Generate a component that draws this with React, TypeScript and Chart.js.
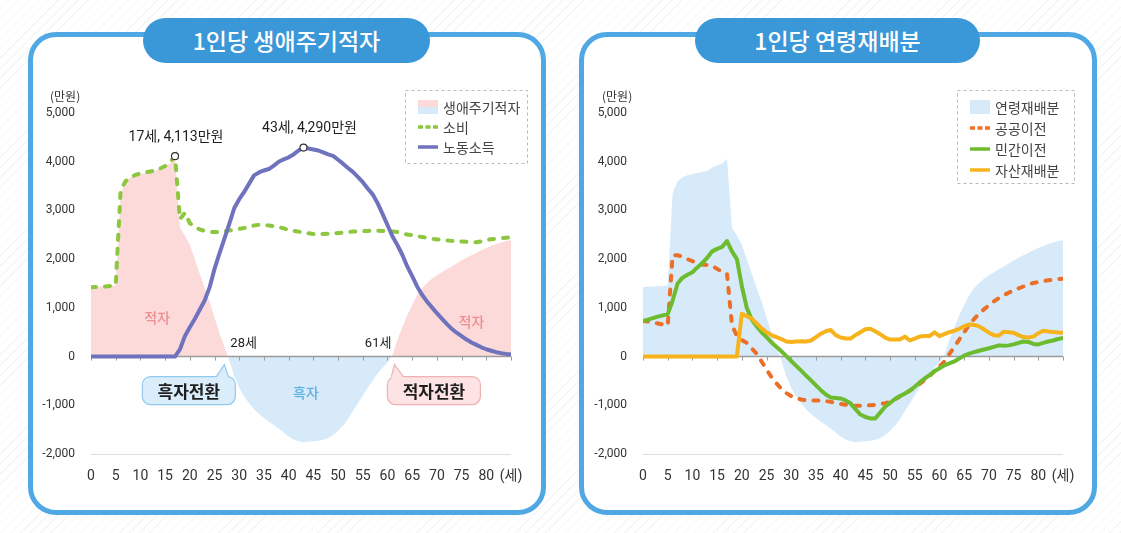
import React, { useEffect, useRef } from 'react';
import { Chart, registerables } from 'chart.js';

Chart.register(...registerables);

// ---------------- data ----------------
const ages = [
  0, 1, 2, 3, 4, 5, 6, 7, 8, 9, 10, 11, 12, 13, 14, 15, 16, 17, 18, 19,
  20, 21, 22, 23, 24, 25, 26, 27, 28, 29, 30, 31, 32, 33, 34, 35, 36, 37, 38, 39,
  40, 41, 42, 43, 44, 45, 46, 47, 48, 49, 50, 51, 52, 53, 54, 55, 56, 57, 58, 59,
  60, 61, 62, 63, 64, 65, 66, 67, 68, 69, 70, 71, 72, 73, 74, 75, 76, 77, 78, 79,
  80, 81, 82, 83, 84, 85,
];

// 생애주기적자 = 연령재배분 (만원)
const lifecycleDeficit = [
  1430, 1435, 1440, 1445, 1450, 1460,
  3350, 3600, 3680, 3720, 3750, 3770, 3790, 3810, 3880, 3920, 3960, 4060,
  2650, 2480, 2300, 2000, 1700, 1420, 1130, 800, 480, 200,
  -80, -400, -640, -820, -960, -1080, -1180, -1260, -1340, -1410,
  -1480, -1560, -1640, -1700, -1740, -1760, -1750, -1740, -1730, -1710,
  -1670, -1610, -1530, -1420, -1280, -1120, -960, -800, -640, -490,
  -350, -230, -120, 30, 340, 600, 850, 1060, 1260, 1400,
  1510, 1600, 1670, 1730, 1790, 1850, 1910, 1970, 2030, 2080,
  2130, 2180, 2230, 2270, 2310, 2340, 2370, 2390,
];

// 소비
const consumption = [
  1425, 1430, 1435, 1440, 1450, 1470,
  3420, 3600, 3680, 3730, 3760, 3780, 3800, 3820, 3860, 3910, 3990, 4113,
  2820, 2950, 2740, 2660, 2610, 2580, 2560, 2555, 2560, 2575,
  2590, 2605, 2620, 2640, 2665, 2690, 2705, 2700, 2690, 2675,
  2660, 2630, 2600, 2580, 2565, 2545, 2530, 2515, 2510, 2515,
  2520, 2525, 2535, 2545, 2555, 2565, 2570, 2575, 2580, 2585,
  2585, 2580, 2575, 2570, 2555, 2530, 2505, 2490, 2470, 2455,
  2440, 2420, 2405, 2395, 2385, 2375, 2365, 2360, 2355, 2350,
  2345, 2365, 2390, 2410, 2420, 2430, 2440, 2445,
];

// 노동소득
const laborIncome = [
  0, 0, 0, 0, 0, 0, 0, 0, 0, 0, 0, 0, 0, 0, 0, 0, 0, 0,
  150, 420, 600, 770, 960, 1150, 1420, 1800, 2120, 2420,
  2730, 3050, 3230, 3380, 3550, 3720, 3780, 3820, 3850, 3920,
  4000, 4050, 4090, 4150, 4230, 4290, 4270, 4250, 4230, 4190,
  4150, 4120, 4040, 3960, 3870, 3790, 3690, 3580, 3450, 3330,
  3150, 2930, 2700, 2470, 2290, 2090, 1850, 1650, 1440, 1270,
  1130, 1010, 890, 780, 670, 570, 490, 420, 350, 290,
  240, 190, 150, 120, 90, 70, 55, 45,
];

// 공공이전
const publicTransfer = [
  730, 720, 700, 680, 660, 640,
  2080, 2080, 2050, 2000, 1960, 1920, 1890, 1880, 1860, 1800, 1740, 1700,
  650, 420, 340, 280, 170, 60, -100, -270, -420, -550,
  -660, -750, -810, -850, -880, -895, -900, -900, -905, -915,
  -930, -950, -970, -990, -1000, -1010, -1010, -1005, -1000, -990,
  -975, -955, -930, -880, -820, -760, -700, -630, -560, -480,
  -400, -300, -200, -100, 50, 200, 350, 500, 650, 770,
  880, 970, 1050, 1130, 1200, 1260, 1310, 1360, 1400, 1440,
  1480, 1510, 1530, 1550, 1565, 1580, 1590, 1600,
];

// 민간이전
const privateTransfer = [
  730, 760, 790, 820, 845, 870,
  1150, 1500, 1620, 1680, 1730, 1830, 1920, 2030, 2160, 2210, 2250, 2370,
  2160, 2000, 1450, 1000, 760, 620, 500, 400, 290, 200,
  110, 10, -90, -190, -290, -390, -490, -590, -690, -780,
  -840, -850, -860, -900, -960, -1080, -1190, -1240, -1270, -1270,
  -1150, -1030, -950, -870, -810, -760, -700, -620, -530, -450,
  -380, -300, -240, -180, -140, -100, -40, 20, 60, 90,
  120, 145, 170, 200, 230, 220, 230, 250, 280, 310,
  300, 260, 250, 280, 310, 330, 360, 380,
];

// 자산재배분
const assetReallocation = [
  0, 0, 0, 0, 0, 0, 0, 0, 0, 0, 0, 0, 0, 0, 0, 0, 0, 0, 0, 0,
  880, 830, 780, 680, 580, 500, 440, 400, 360, 310,
  300, 310, 315, 310, 330, 400, 470, 520, 545, 440,
  390, 370, 370, 440, 500, 560, 570, 520, 460, 390,
  350, 350, 350, 410, 330, 370, 410, 420, 420, 500,
  420, 460, 500, 530, 570, 620, 660, 650, 620, 560,
  490, 440, 430, 510, 500, 490, 440, 400, 390, 410,
  480, 530, 515, 505, 495, 490,
];

const xTickValues = [0, 5, 10, 15, 20, 25, 30, 35, 40, 45, 50, 55, 60, 65, 70, 75, 80, 85];
const xTickLabels = ['0', '5', '10', '15', '20', '25', '30', '35', '40', '45', '50', '55', '60', '65', '70', '75', '80', '(세)'];
const yTickValues = [-2000, -1000, 0, 1000, 2000, 3000, 4000, 5000];
const yUnitLabel = '(만원)';

const leftTitle = '1인당 생애주기적자';
const rightTitle = '1인당 연령재배분';
const leftLegend = ['생애주기적자', '소비', '노동소득'];
const rightLegend = ['연령재배분', '공공이전', '민간이전', '자산재배분'];

const peakNotes = [
  { age: 17, value: 4113, text: '17세, 4,113만원' },
  { age: 43, value: 4290, text: '43세, 4,290만원' },
];
const crossNotes = [
  { age: 28, text: '28세', callout: '흑자전환', kind: 'surplus' },
  { age: 61, text: '61세', callout: '적자전환', kind: 'deficit' },
];
const areaNotes = [
  { age: 13.4, value: 800, text: '적자', kind: 'deficit' },
  { age: 77, value: 720, text: '적자', kind: 'deficit' },
  { age: 43.5, value: -740, text: '흑자', kind: 'surplus' },
];

// ---------------- styles ----------------
const KR = "'Noto Sans CJK KR', 'Noto Sans', sans-serif";
const NUM = "Roboto, 'Noto Sans CJK KR', sans-serif";
const C = {
  pink: '#fcdada',
  blue: '#d6eaf9',
  cons: '#8dc63f',
  labor: '#6f72bd',
  pub: '#ec6f28',
  priv: '#6dbb2e',
  asset: '#f6b31b',
  frame: '#4fa8e4',
  pill: '#3a97d8',
  axis: '#9c9c9c',
  text: '#333333',
  pinkText: '#ef8e92',
  blueText: '#60b1e4',
};
const LINE_W = 4;

Chart.defaults.font.family = NUM;

const zeroAxisPlugin = {
  id: 'zeroAxis',
  afterDatasetDraw(chart: any, args: any) {
    if (args.index !== 0) return;
    const { ctx, chartArea, scales } = chart;
    const x = scales.x;
    const y0 = scales.y.getPixelForValue(0);
    ctx.save();
    ctx.strokeStyle = C.axis;
    ctx.lineWidth = 1.5;
    ctx.beginPath();
    ctx.moveTo(chartArea.left, y0);
    ctx.lineTo(chartArea.right, y0);
    ctx.stroke();
    ctx.lineWidth = 1;
    ctx.beginPath();
    for (const v of xTickValues) {
      const px = Math.round(x.getPixelForValue(v)) + 0.5;
      ctx.moveTo(px, y0);
      ctx.lineTo(px, y0 + 4);
    }
    ctx.stroke();
    ctx.restore();
  },
};

type LegendItem = { label: string; type: string; color: string; color2?: string };

function drawLegendBox(ctx: any, bx: number, by: number, bw: number, bh: number, items: LegendItem[], gap: number) {
  ctx.save();
  ctx.setLineDash([3, 3]);
  ctx.strokeStyle = '#b8b8b8';
  ctx.lineWidth = 1;
  ctx.strokeRect(bx + 0.5, by + 0.5, bw, bh);
  ctx.setLineDash([]);
  items.forEach((it, i) => {
    const cy = by + 17 + i * gap;
    const sx = bx + 13;
    if (it.type === 'area2') {
      ctx.fillStyle = it.color;
      ctx.fillRect(sx, cy - 7, 20, 7);
      ctx.fillStyle = it.color2;
      ctx.fillRect(sx, cy, 20, 7);
    } else if (it.type === 'area') {
      ctx.fillStyle = it.color;
      ctx.fillRect(sx, cy - 7, 20, 14);
    } else {
      ctx.strokeStyle = it.color;
      ctx.lineWidth = 3.5;
      ctx.lineCap = 'butt';
      ctx.setLineDash(it.type === 'dash' ? [5, 2.5] : []);
      ctx.beginPath();
      ctx.moveTo(sx, cy);
      ctx.lineTo(sx + 20, cy);
      ctx.stroke();
      ctx.setLineDash([]);
    }
    ctx.fillStyle = '#444';
    ctx.font = `14px ${KR}`;
    ctx.textAlign = 'left';
    ctx.textBaseline = 'middle';
    ctx.fillText(it.label, sx + 25, cy + 1);
  });
  ctx.restore();
}

function drawUnit(ctx: any) {
  ctx.save();
  ctx.fillStyle = C.text;
  ctx.font = `12px ${KR}`;
  ctx.textAlign = 'left';
  ctx.textBaseline = 'middle';
  ctx.fillText(yUnitLabel, 20, 16);
  ctx.restore();
}

function drawCallout(ctx: any, ax: number, y0: number, text: string, kind: string) {
  const surplus = kind === 'surplus';
  const fill = surplus ? '#d9edfb' : '#fde3e3';
  const stroke = surplus ? '#92c9ee' : '#efb1b1';
  const w = 93;
  const h = 28;
  const left = surplus ? ax - 87 : ax - 5;
  const top = y0 + 20;
  const b1 = surplus ? ax - 13 : ax - 1;
  const b2 = surplus ? ax - 1 : ax + 11;
  const tipX = surplus ? ax - 5 : ax + 2;
  const tipY = y0 + 8;
  ctx.save();
  ctx.lineWidth = 1.2;
  ctx.fillStyle = fill;
  ctx.strokeStyle = stroke;
  ctx.beginPath();
  ctx.roundRect(left, top, w, h, 8);
  ctx.fill();
  ctx.stroke();
  ctx.beginPath();
  ctx.moveTo(b1, top + 1.5);
  ctx.lineTo(tipX, tipY);
  ctx.lineTo(b2, top + 1.5);
  ctx.closePath();
  ctx.fill();
  ctx.beginPath();
  ctx.moveTo(b1, top);
  ctx.lineTo(tipX, tipY);
  ctx.lineTo(b2, top);
  ctx.stroke();
  ctx.fillStyle = '#1e1e1e';
  ctx.font = `bold 17px ${KR}`;
  ctx.textAlign = 'center';
  ctx.textBaseline = 'middle';
  ctx.fillText(text, left + w / 2, top + h / 2 + 1);
  ctx.restore();
}

const leftDecorPlugin = {
  id: 'leftDecor',
  afterDraw(chart: any) {
    const { ctx, scales } = chart;
    const x = scales.x;
    const y = scales.y;
    const y0 = y.getPixelForValue(0);
    drawUnit(ctx);
    drawLegendBox(ctx, 375, 10, 122, 73, [
      { label: leftLegend[0], type: 'area2', color: C.pink, color2: C.blue },
      { label: leftLegend[1], type: 'dash', color: C.cons },
      { label: leftLegend[2], type: 'line', color: C.labor },
    ], 20);
    ctx.save();
    ctx.fillStyle = '#1e1e1e';
    ctx.font = `14px ${NUM}`;
    ctx.textAlign = 'center';
    ctx.textBaseline = 'middle';
    peakNotes.forEach((n, i) => {
      const px = x.getPixelForValue(n.age) + (i === 0 ? 1 : 6);
      ctx.fillText(n.text, px, y.getPixelForValue(n.value) - 19);
    });
    ctx.font = `13px ${NUM}`;
    crossNotes.forEach((n) => {
      const px = x.getPixelForValue(n.age);
      ctx.textAlign = n.kind === 'surplus' ? 'left' : 'right';
      ctx.fillText(n.text, n.kind === 'surplus' ? px + 1 : px - 1, y0 - 13);
    });
    ctx.font = `500 14px ${KR}`;
    ctx.textAlign = 'center';
    areaNotes.forEach((n) => {
      ctx.fillStyle = n.kind === 'deficit' ? C.pinkText : C.blueText;
      ctx.fillText(n.text, x.getPixelForValue(n.age), y.getPixelForValue(n.value));
    });
    ctx.restore();
    crossNotes.forEach((n) => drawCallout(ctx, x.getPixelForValue(n.age), y0, n.callout, n.kind));
  },
};

const rightDecorPlugin = {
  id: 'rightDecor',
  afterDraw(chart: any) {
    const { ctx } = chart;
    drawUnit(ctx);
    drawLegendBox(ctx, 375, 10, 117, 93, [
      { label: rightLegend[0], type: 'area', color: C.blue },
      { label: rightLegend[1], type: 'dash', color: C.pub },
      { label: rightLegend[2], type: 'line', color: C.priv },
      { label: rightLegend[3], type: 'line', color: C.asset },
    ], 21);
  },
};

function baseOptions(): any {
  return {
    responsive: false,
    animation: false,
    events: [],
    layout: { padding: { left: 0, right: 29, top: 33, bottom: 0 } },
    plugins: { legend: { display: false }, tooltip: { enabled: false } },
    scales: {
      x: {
        type: 'linear',
        min: 0,
        max: 85,
        afterBuildTicks: (s: any) => {
          s.ticks = xTickValues.map((v) => ({ value: v }));
        },
        ticks: {
          autoSkip: false,
          maxRotation: 0,
          padding: 6,
          color: C.text,
          font: { family: NUM, size: 14 },
          callback: (v: any) => xTickLabels[xTickValues.indexOf(Number(v))],
        },
        grid: { display: false },
        border: { display: false },
        afterFit: (s: any) => {
          s.height = 36;
        },
      },
      y: {
        type: 'linear',
        min: -2000,
        max: 5000,
        afterBuildTicks: (s: any) => {
          s.ticks = yTickValues.map((v) => ({ value: v }));
        },
        ticks: {
          padding: 16,
          color: C.text,
          font: { family: NUM, size: 12 },
          callback: (v: any) => Number(v).toLocaleString('en-US'),
        },
        grid: {
          drawTicks: false,
          lineWidth: 1,
          color: (c: any) => (c.tick && c.tick.value === -2000 ? '#dfdfdf' : 'rgba(0,0,0,0)'),
        },
        border: { display: false },
        afterFit: (s: any) => {
          s.width = 61;
        },
      },
    },
  };
}

const peakIndex = (age: number) => ages.indexOf(age);

function leftConfig(): any {
  return {
    type: 'line',
    data: {
      labels: ages,
      datasets: [
        {
          label: leftLegend[0],
          data: lifecycleDeficit,
          fill: { target: 'origin', above: C.pink, below: C.blue },
          borderColor: 'rgba(0,0,0,0)',
          borderWidth: 1,
          pointRadius: 0,
          order: 10,
        },
        {
          label: leftLegend[1],
          data: consumption,
          borderColor: C.cons,
          borderWidth: LINE_W,
          borderDash: [5, 9],
          borderCapStyle: 'round',
          fill: false,
          order: 2,
          pointRadius: (c: any) => (c.dataIndex === peakIndex(peakNotes[0].age) ? 3.5 : 0),
          pointBackgroundColor: '#ffffff',
          pointBorderColor: '#333333',
          pointBorderWidth: 1.2,
        },
        {
          label: leftLegend[2],
          data: laborIncome,
          borderColor: C.labor,
          borderWidth: LINE_W,
          borderJoinStyle: 'round',
          fill: false,
          order: 1,
          pointRadius: (c: any) => (c.dataIndex === peakIndex(peakNotes[1].age) ? 3.5 : 0),
          pointBackgroundColor: '#ffffff',
          pointBorderColor: '#333333',
          pointBorderWidth: 1.2,
        },
      ],
    },
    options: baseOptions(),
    plugins: [zeroAxisPlugin, leftDecorPlugin],
  };
}

function rightConfig(): any {
  return {
    type: 'line',
    data: {
      labels: ages,
      datasets: [
        {
          label: rightLegend[0],
          data: lifecycleDeficit,
          fill: { target: 'origin', above: C.blue, below: C.blue },
          borderColor: 'rgba(0,0,0,0)',
          borderWidth: 1,
          pointRadius: 0,
          order: 10,
        },
        {
          label: rightLegend[1],
          data: publicTransfer,
          borderColor: C.pub,
          borderWidth: LINE_W,
          borderDash: [5, 9],
          borderCapStyle: 'round',
          fill: false,
          pointRadius: 0,
          order: 3,
        },
        {
          label: rightLegend[2],
          data: privateTransfer,
          borderColor: C.priv,
          borderWidth: LINE_W,
          borderJoinStyle: 'round',
          fill: false,
          pointRadius: 0,
          order: 2,
        },
        {
          label: rightLegend[3],
          data: assetReallocation,
          borderColor: C.asset,
          borderWidth: LINE_W,
          borderJoinStyle: 'round',
          fill: false,
          pointRadius: 0,
          order: 1,
        },
      ],
    },
    options: baseOptions(),
    plugins: [zeroAxisPlugin, rightDecorPlugin],
  };
}

function ChartCanvas({ makeConfig, left, top, width, height }: any) {
  const ref = useRef<HTMLCanvasElement>(null);
  useEffect(() => {
    const chart = new Chart(ref.current as HTMLCanvasElement, makeConfig());
    return () => chart.destroy();
  }, []);
  return (
    <canvas
      ref={ref}
      width={width}
      height={height}
      style={{ position: 'absolute', left, top, width, height }}
    />
  );
}

function Panel({ left, title, pillLeft, pillWidth }: any) {
  return (
    <>
      <div
        style={{
          position: 'absolute',
          left,
          top: 32,
          width: 518,
          height: 483,
          boxSizing: 'border-box',
          border: `5px solid ${C.frame}`,
          borderRadius: 28,
          background: '#ffffff',
        }}
      />
      <div
        style={{
          position: 'absolute',
          left: pillLeft,
          top: 18,
          width: pillWidth,
          height: 45,
          borderRadius: 23,
          background: C.pill,
          color: '#ffffff',
          fontFamily: KR,
          fontWeight: 500,
          fontSize: 23,
          lineHeight: '45px',
          textAlign: 'center',
          letterSpacing: 0,
        }}
      >
        {title}
      </div>
    </>
  );
}

export default function App() {
  return (
    <div
      style={{
        position: 'fixed',
        left: 0,
        top: 0,
        width: 1121,
        height: 533,
        overflow: 'hidden',
        background:
          'repeating-linear-gradient(135deg, #ffffff 0px, #ffffff 6px, #f5f6f8 6px, #f5f6f8 7px)',
      }}
    >
      <Panel left={28} title={leftTitle} pillLeft={143} pillWidth={287} />
      <Panel left={579} title={rightTitle} pillLeft={695} pillWidth={285} />
      <ChartCanvas makeConfig={leftConfig} left={30} top={80} width={510} height={410} />
      <ChartCanvas makeConfig={rightConfig} left={582} top={80} width={510} height={410} />
    </div>
  );
}
